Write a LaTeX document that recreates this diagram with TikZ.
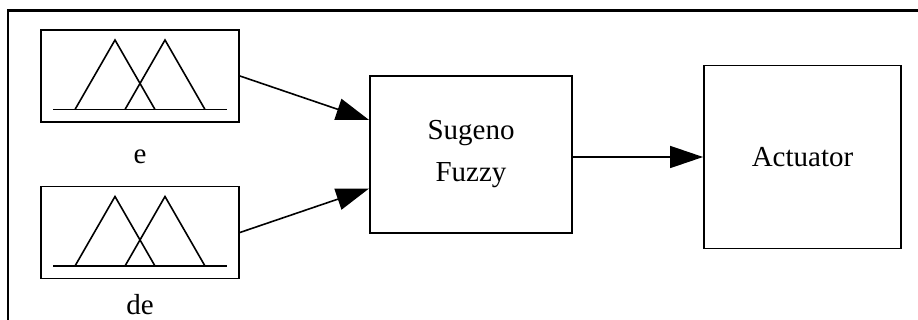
\documentclass[tikz,border=0pt]{standalone}
\usepackage{fontspec}
\setmainfont{Liberation Serif}
\usetikzlibrary{arrows.meta}
\begin{document}
\begin{tikzpicture}[x=1pt,y=-1pt,
  blk/.style={draw,line width=1.8pt,inner sep=0pt},
  mfbox/.style={blk,minimum width=198pt,minimum height=92pt},
  txt/.style={font=\fontsize{29}{42}\selectfont,align=center},
  link/.style={line width=1.6pt,-{Triangle[length=33pt,width=22pt]}},
  mfline/.style={line width=1.6pt,line join=miter},
  mf/.pic={
    \draw[mfline] (-87,33.5) -- (87,33.5);
    \draw[mfline] (-65,33.5) -- (-25,-36) -- (15,33.5);
    \draw[mfline] (-15,33.5) -- (25,-36) -- (65,33.5);
  }]
  \useasboundingbox (0,0) rectangle (918,320);
  \fill[white] (0,0) rectangle (918,320);

  % outer frame, open on the right and at the bottom
  \draw[line width=2.2pt] (918,10.5) -- (8,10.5) -- (8,320);

  % membership-function blocks for the two inputs
  \node[mfbox] (e) at (140,76) {};
  \pic at (e.center) {mf};
  \node[txt] (elbl) at (140,157) {e};

  \node[mfbox] (de) at (140,232.5) {};
  \pic at (de.center) {mf};
  \node[txt] (delbl) at (140,305) {de};

  % controller and actuator
  \node[blk,txt,minimum width=202pt,minimum height=157pt] (sug) at (471,154.5) {Sugeno\\Fuzzy};
  \node[blk,txt,minimum width=197pt,minimum height=183pt] (act) at (802.5,157) {Actuator};

  % signal flow
  \draw[link] (e.east) -- ([yshift=34.5pt]sug.west);
  \draw[link] (de.east) -- ([yshift=-34pt]sug.west);
  \draw[link] (act.west -| sug.east) -- (act.west);
\end{tikzpicture}
\end{document}
